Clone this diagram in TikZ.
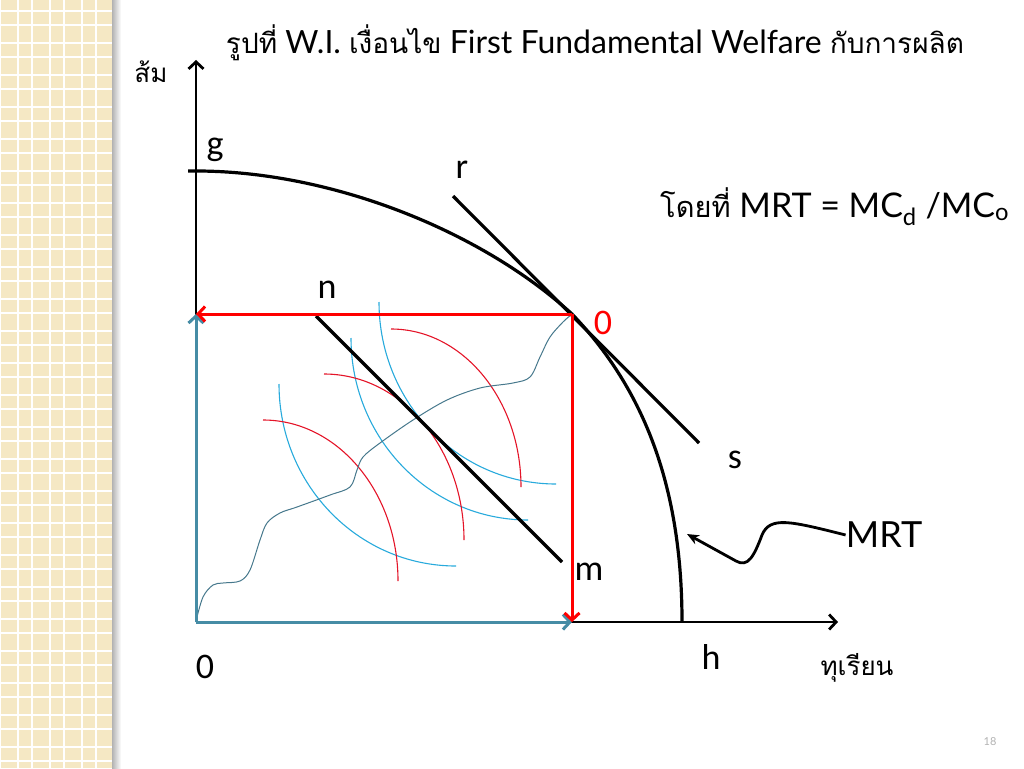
\documentclass[tikz,border=0pt]{standalone}
\usepackage{fontspec}
\setmainfont{Lato}
\newfontfamily\thaifont[Script=Thai]{Loma}
\newfontfamily\letterfont{Carlito}
\usetikzlibrary{positioning,arrows.meta}

\definecolor{stripbeige}{RGB}{245,232,196}
\definecolor{icblue}{RGB}{40,170,220}
\definecolor{icred}{RGB}{228,20,40}
\definecolor{axisteal}{RGB}{70,140,165}
\definecolor{contractgray}{RGB}{70,120,140}

\tikzset{
  letter/.style={font=\letterfont\fontsize{36}{40}\selectfont, inner sep=0pt},
  thailbl/.style={font=\thaifont\fontsize{26}{30}\selectfont, inner sep=0pt},
  axisline/.style={line width=2.8pt, ->},
  tealarrow/.style={axisteal, line width=3pt, ->},
  redarrow/.style={red, line width=3pt, ->},
  blackline/.style={line width=3.2pt},
  bluecurve/.style={icblue, line width=1.1pt},
  redcurve/.style={icred, line width=1.1pt},
}

\begin{document}
\begin{tikzpicture}[x=1pt,y=-1pt,>={Straight Barb[length=7pt,width=15pt]},line join=round]
  \useasboundingbox (0,0) rectangle (1024,768);

  % side strip
  \fill[stripbeige] (0,0) rectangle (112,768);
  \foreach \k in {0,...,23} {
    \draw[white, line width=1.1pt] (0,11+32*\k) -- (112,11+32*\k);
    \draw[white, line width=1.1pt] (0,25+32*\k) -- (112,25+32*\k);
  }
  \foreach \k in {0,...,3} {
    \draw[white, line width=1.1pt] (32*\k,0) -- (32*\k,768);
    \draw[white, line width=1.1pt] (18+32*\k,0) -- (18+32*\k,768);
  }
  \shade[left color=black!30, right color=white] (112,0) rectangle (121,768);

  % points
  \coordinate (origin) at (196,622);
  \coordinate (ytop) at (196,60);
  \coordinate (xend) at (838,622);
  \coordinate (eq) at (572,314);
  \coordinate (yeq) at (196,314);
  \coordinate (xeq) at (572,622);
  \coordinate (gpt) at (188,171);
  \coordinate (hpt) at (682,622);
  \coordinate (r_end) at (453,196);
  \coordinate (s_end) at (699,443);
  \coordinate (n_end) at (316,316);
  \coordinate (m_end) at (562,562);
  \coordinate (mrt_tip) at (687,534);

  % labels
  \node (title) at (595,53) [anchor=base, inner sep=0pt, font=\fontsize{32}{36}\selectfont]
    {{\thaifont\fontsize{28}{32}\selectfont รูปที่} W.I. {\thaifont\fontsize{28}{32}\selectfont เงื่อนไข} First Fundamental Welfare {\thaifont\fontsize{28}{32}\selectfont กับการผลิต}};
  \node (cond) at (660,217) [anchor=base west, inner sep=0pt, font=\fontsize{34}{38}\selectfont]
    {{\thaifont\fontsize{29}{33}\selectfont โดยที่} MRT = MC\textsubscript{d} /MC\textsubscript{o}};
  \node (som) at (151,72) [thailbl] {ส้ม};
  \node (durian) at (857,668) [thailbl] {ทุเรียน};
  \node (g_lbl) at (215,150) [letter] {g};
  \node (r_lbl) at (462,170) [letter] {r};
  \node (n_lbl) at (327,290) [letter] {n};
  \node (eq_lbl) at (603,323) [letter, text=red] {0};
  \node (s_lbl) at (735,460) [letter] {s};
  \node (m_lbl) at (589,572) [letter] {m};
  \node (h_lbl) at (711,657) [letter] {h};
  \node (o_lbl) at (205,667) [letter] {0};
  \node (mrt_lbl) at (884,535) [inner sep=0pt, font=\fontsize{36}{40}\selectfont] {MRT};
  \node (page) at (990,742) [inner sep=0pt, text=black!30, font=\fontsize{11}{13}\selectfont] {18};

  % indifference curves
  \draw[bluecurve] (279,384) arc[start angle=180, end angle=90, x radius=177, y radius=182];
  \draw[bluecurve] (351,338) arc[start angle=180, end angle=90, x radius=177, y radius=182];
  \draw[bluecurve] (379,302) arc[start angle=180, end angle=90, x radius=177, y radius=182];
  \draw[redcurve] (263,420) arc[start angle=-90, end angle=0, x radius=135, y radius=161];
  \draw[redcurve] (324,374) arc[start angle=-90, end angle=0, x radius=140, y radius=166];
  \draw[redcurve] (391,329) arc[start angle=-90, end angle=0, x radius=130, y radius=158];

  % contract curve
  \draw[contractgray, line width=1pt] plot[smooth, tension=0.55] coordinates {
    (196,621) (203,597) (213,585) (223,583) (240,581) (250,570) (260,540) (267,523)
    (280,513) (297,507) (330,495) (350,487) (357,470) (363,457) (380,443) (413,420)
    (447,400) (480,388) (513,383) (530,377) (540,357) (550,337) (563,322) (571,315)};

  % axes
  \draw[axisline] (origin) -- (ytop);
  \draw[axisline] (origin) -- (xend);
  \draw[tealarrow] (origin) -- (yeq);
  \draw[tealarrow] (origin) -- (xeq);

  % production possibility frontier
  \draw[blackline] (gpt) -- (196,171) .. controls (330,171) and (480,230) .. (eq)
    .. controls (640,385) and (682,480) .. (hpt);

  % price lines
  \draw[blackline] (r_end) -- (s_end);
  \draw[blackline] (n_end) -- (m_end);

  % red arrows
  \draw[redarrow] (eq) -- (yeq);
  \draw[redarrow] (eq) -- (xeq);

  % pointer to frontier
  \draw[line width=2.8pt, -{Stealth[length=12pt,width=10pt]}] (mrt_lbl.west)
    .. controls (790,521) and (770,516) .. (762,535)
    .. controls (754,556) and (748,568) .. (736,561) -- (mrt_tip);
\end{tikzpicture}
\end{document}
